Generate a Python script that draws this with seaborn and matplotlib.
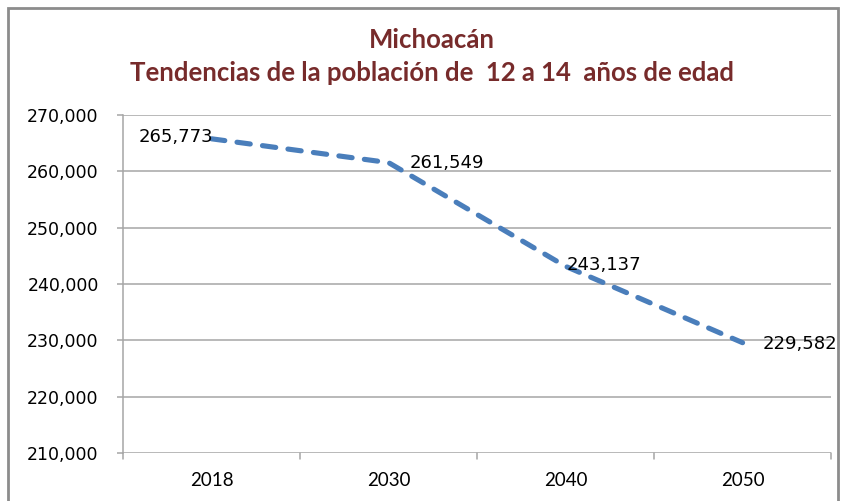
import matplotlib
matplotlib.use("Agg")
import matplotlib.pyplot as plt
import seaborn as sns
import pandas as pd
from matplotlib.patches import Rectangle

years = ["2018", "2030", "2040", "2050"]
population = [265773, 261549, 243137, 229582]
yticks = [210000, 220000, 230000, 240000, 250000, 260000, 270000]
title_line1 = "Michoacán"
title_line2 = "Tendencias de la población de  12 a 14  años de edad"

df = pd.DataFrame({"year": years, "pop": population})

sns.set_style("white")
plt.rcParams["font.family"] = ["DejaVu Sans"]

fig = plt.figure(figsize=(8.41, 5.01), dpi=100)
ax = fig.add_axes([0.1463, 0.0958, 0.8419, 0.6747])

line_color = "#4A7EBB"
sns.lineplot(data=df, x="year", y="pop", ax=ax, color=line_color,
             linewidth=3.7, sort=False)
for l in ax.get_lines():
    l.set_dashes([2.6, 2.4])
    l.set_dash_capstyle("round")

ax.set_xlim(-0.5, 3.5)
ax.set_ylim(210000, 270000)
ax.set_yticks(yticks)
ax.set_yticklabels([f"{v:,}" for v in yticks], fontsize=12.5, color="black")
ax.set_xticks(range(len(years)))
ax.set_xticklabels(years, fontsize=13.5, family="Lato", color="black")
ax.set_xlabel("")
ax.set_ylabel("")

# gridlines
ax.grid(axis="y", color="#A6A6A6", linewidth=1.1)
ax.set_axisbelow(True)
for s in ["top", "right", "bottom"]:
    ax.spines[s].set_visible(False)
ax.spines["left"].set_color("#A6A6A6")
ax.spines["left"].set_linewidth(1.1)
ax.tick_params(axis="y", length=4.5, color="#A6A6A6", width=1.1, pad=13, left=True)
ax.tick_params(axis="x", length=0, pad=14)
# category boundary ticks on x axis
for b in [-0.5, 0.5, 1.5, 2.5, 3.5]:
    ax.plot([b, b], [0, -0.018], transform=ax.get_xaxis_transform(),
            color="#A6A6A6", linewidth=1.1, clip_on=False)

# data labels
offsets = [(0.01, "right"), (0.12, "left"), (0.005, "left"), (0.113, "left")]
label_dy = [300, 0, 300, -200]
for i, (v, (dx, ha)) in enumerate(zip(population, offsets)):
    ax.text(i + dx, v + label_dy[i], f"{v:,}", ha=ha, va="center",
            fontsize=13, color="black")

# titles
title_color = "#772B2B"
cx = 432 / 841
fig.text(cx, 1 - 40 / 501, title_line1, ha="center", va="center",
         fontsize=18.5, fontweight="bold", color=title_color, family="Lato")
fig.text(cx, 1 - 73 / 501, title_line2, ha="center", va="center",
         fontsize=18.5, fontweight="bold", color=title_color, family="Lato")

# outer frame
fig.patches.append(Rectangle((8 / 841, -0.05), 830 / 841, 1 - 8 / 501 + 0.05,
                             transform=fig.transFigure, fill=False,
                             edgecolor="#8C8C8C", linewidth=2))

fig.savefig("out.png", dpi=100)
